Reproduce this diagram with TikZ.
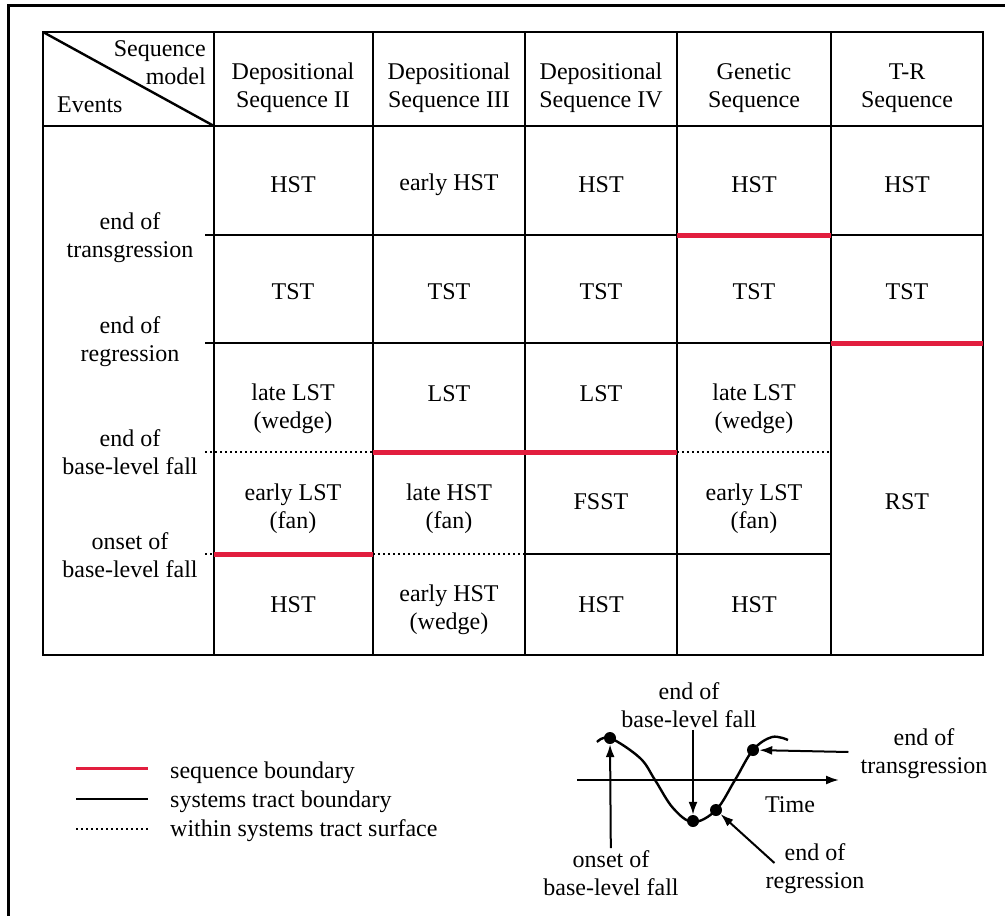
\documentclass[tikz,border=0pt]{standalone}
\usepackage{fontspec}
\setmainfont{Liberation Serif}
\usepackage{xcolor}
\usetikzlibrary{arrows.meta,positioning}
\definecolor{sbred}{RGB}{226,30,62}

\begin{document}
\begin{tikzpicture}[x=1pt,y=-1pt,>={Latex[length=13pt,width=9pt]},
			grid/.style={line width=2.4pt},
			sb/.style={line width=5pt,sbred},
			within/.style={line width=2pt,dash pattern=on 2pt off 3pt},
			dot/.style={circle,fill=black,inner sep=0pt,minimum size=12pt,yshift=2pt}]
			\tikzstyle{every node}=[font=\fontsize{24}{28}\selectfont,align=center,inner sep=2pt,yshift=-2pt]
			\useasboundingbox (0,0) rectangle (1005,916);
			\draw[line width=3pt] (8,916) -- (8,5) -- (1005,5);
			% table frame
			\draw[grid] (43,32) rectangle (983,655);
			\foreach \x in {214,373,525,677,831}
				\draw[grid] (\x,32) -- (\x,655);
			\draw[grid] (43,126) -- (983,126);
			\draw[grid] (43,32) -- (214,126);
			% boundaries
			\draw[grid] (205,235) -- (677,235) (831,235) -- (983,235);
			\draw[grid] (205,343) -- (831,343);
			\draw[grid] (525,554) -- (831,554);
			\draw[within] (205,452) -- (373,452) (677,452) -- (831,452);
			\draw[within] (205,554) -- (214,554) (373,554) -- (525,554);
			\draw[sb] (677,235) -- (831,235);
			\draw[sb] (831,343) -- (983,343);
			\draw[sb] (373,452) -- (677,452);
			\draw[sb] (214,554) -- (373,554);
			% header
			\node[anchor=east,align=right] (SM) at (208,61) {Sequence\\model};
			\node[anchor=west] (EV) at (55,103) {Events};
			\node (H1) at (293,86) {Depositional\\Sequence II};
			\node (H2) at (449,86) {Depositional\\Sequence III};
			\node (H3) at (601,86) {Depositional\\Sequence IV};
			\node (H4) at (754,86) {Genetic\\Sequence};
			\node (H5) at (907,86) {T-R\\Sequence};
			% events
			\node (E1) at (130,236) {end of\\transgression};
			\node (E2) at (130,340) {end of\\regression};
			\node (E3) at (130,450) {end of\\base-level fall};
			\node (E4) at (130,553) {onset of\\base-level fall};
			% cells
			\node (A1) at (293,183) {HST};
			\node (B1) at (449,183) {early HST};
			\node (C1) at (601,183) {HST};
			\node (D1) at (754,183) {HST};
			\node (F1) at (907,183) {HST};
			\node (A2) at (293,290) {TST};
			\node (B2) at (449,290) {TST};
			\node (C2) at (601,290) {TST};
			\node (D2) at (754,290) {TST};
			\node (F2) at (907,290) {TST};
			\node (A3) at (293,407) {late LST\\(wedge)};
			\node (B3) at (449,392) {LST};
			\node (C3) at (601,392) {LST};
			\node (D3) at (754,407) {late LST\\(wedge)};
			\node (A4) at (293,507) {early LST\\(fan)};
			\node (B4) at (449,507) {late HST\\(fan)};
			\node (C4) at (601,500) {FSST};
			\node (D4) at (754,507) {early LST\\(fan)};
			\node (F4) at (907,500) {RST};
			\node (A5) at (293,603) {HST};
			\node (B5) at (449,608) {early HST\\(wedge)};
			\node (C5) at (601,603) {HST};
			\node (D5) at (754,603) {HST};
			% legend
			\draw[sbred,line width=3pt] (76,768) -- (148,768);
			\draw[line width=2.4pt] (76,799) -- (148,799);
			\draw[within] (76,829) -- (148,829);
			\node[anchor=west] (L1) at (168,771) {sequence boundary};
			\node[anchor=west] (L2) at (168,800) {systems tract boundary};
			\node[anchor=west] (L3) at (168,829) {within systems tract surface};
			% base-level curve
			\draw[->,line width=2pt] (577,780) -- (839,780);
			\node (T) at (790,803) {Time};
			\draw[line width=2.4pt] plot[smooth,tension=0.6] coordinates {(597,742) (610,738) (640,758) (655,780) (673,808) (693,822) (716,810) (735,780) (753,750) (772,737) (788,740)};
			\node[dot] (P1) at (610,738) {};
			\node[dot] (P2) at (693,821) {};
			\node[dot] (P3) at (716,810) {};
			\node[dot] (P4) at (753,750) {};
			\node (N1) at (611,871) {onset of\\base-level fall};
			\node (N2) at (689,703) {end of\\base-level fall};
			\node (N3) at (815,867) {end of\\regression};
			\node (N4) at (924,752) {end of\\transgression};
			\draw[->,line width=2pt] (N1) -- (P1);
			\draw[->,line width=2pt] (N2.south -| P2) -- (P2);
			\draw[->,line width=2pt] ([xshift=11pt,yshift=6pt]N3.west) -- (P3);
			\draw[->,line width=2pt] ([xshift=-10pt,yshift=2pt]N4.west) -- (P4);
\end{tikzpicture}
\end{document}
